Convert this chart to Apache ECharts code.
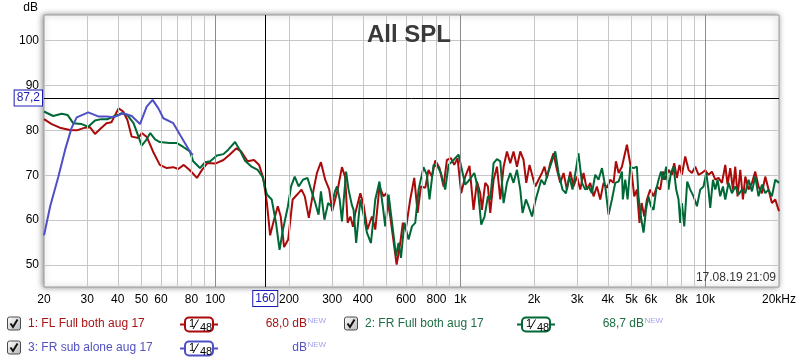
<!DOCTYPE html>
<html><head><meta charset="utf-8">
<script src="https://cdn.jsdelivr.net/npm/echarts@6/dist/echarts.min.js"></script>
<style>html,body{margin:0;padding:0;background:#fff}#c{width:800px;height:362px}</style>
</head><body><div id="c"></div>
<script>
// ---- data ----
const flFreq = [20,21.5,23.2,25.5,27.2,29.4,30.8,32.3,33.9,36,37.7,40.3,42.1,43.8,45.6,48.6,50.1,52.6,55.7,59.4,63.4,67.4,70.6,74.4,78.8,84.2,88.3,92.9,100,108,114.7,122,127.6,135.5,144,151,157,162.5,167.5,173,180,185,191,198.5,207,216,225,232,241,252,260,270,281,292,300,316,329,339,347,356,365,373,391,403,418,436,450,468,486,499,518,531,550,569,583,602,625,649,670,691,720,742,766,791,823,855,882,916,945,975,1009,1048,1091,1133,1170,1207,1226,1265,1297,1326,1368,1412,1457,1503,1551,1600,1650,1704,1758,1813,1860,1918,1973,2024,2087,2155,2208,2259,2330,2403,2482,2560,2641,2725,2812,2900,2993,3089,3186,3288,3393,3500,3612,3728,3845,3969,4095,4224,4320,4430,4570,4790,4910,5030,5130,5260,5390,5500,5640,5780,5963,6150,6350,6551,6720,6866,7080,7310,7470,7660,7850,8030,8285,8550,8820,9101,9390,9690,10000,10310,10650,10990,11330,11700,12070,12330,12650,12970,13260,13550,13900,14250,14570,15030,15510,16000,16500,17040,17580,18130,18710,19310,20000];
const flDb = [82.5,81.4,80.6,80.1,80.0,80.6,80.7,79.2,80.3,81.6,81.8,84.9,84.2,82.3,78.6,78.3,79.4,78.5,75.3,72.3,71.6,71.8,71.4,72.3,71.1,69.4,71.2,72.7,72.6,73.4,74.6,76.0,75.3,73.1,73.4,72.3,69.4,63.8,56.6,59.7,63.1,60.8,54.0,55.7,64.6,65.7,66.8,65.3,60.5,66.8,70.5,72.9,69.0,66.8,62.0,66.8,71.8,69.6,59.4,60.8,58.5,61.6,66.0,63.4,57.9,60.8,57.9,67.5,65.3,66.0,60.8,56.4,50.1,54.9,59.4,58.6,64.6,69.4,61.6,67.5,67.2,71.2,69.7,73.3,71.6,67.5,73.4,73.8,72.3,73.8,66.0,69.7,72.1,62.3,68.6,66.0,62.3,68.3,67.5,61.6,69.0,71.9,64.6,71.9,75.3,72.7,75.3,71.9,75.3,73.4,68.3,72.3,69.7,67.5,69.0,70.5,71.9,69.4,72.7,74.9,71.2,68.3,70.5,66.8,70.8,67.5,69.7,66.8,70.5,66.8,68.3,65.3,67.5,64.6,68.3,67.2,69.0,68.3,73.1,70.5,71.9,76.8,73.4,69.7,65.3,66.8,59.4,63.8,60.8,64.6,66.8,65.3,67.5,66.8,70.8,69.0,71.2,70.1,72.7,69.4,72.3,70.1,74.2,71.2,70.5,71.9,70.1,70.5,71.1,70.1,70.8,69.0,69.4,68.3,72.3,67.9,71.6,66.8,71.9,65.3,71.2,64.6,69.7,66.8,68.3,70.8,67.5,66.0,69.7,66.8,63.8,64.6,62.0];

const frFreq = [20,21.8,23.6,25.0,26.3,28.5,30.3,32.3,34.3,36.4,38.9,41.5,43.8,46.4,48.6,50.1,52.3,54.3,56.8,59.4,65.0,69.5,74.0,78.8,81.3,86.6,90.9,95.4,101.6,108,113,120.5,125.7,132,140,149,156,162.5,170,177,183,189,198,204,211,219,228,238,246,256,264,270,279,289,298,308,314,322,329,342,350,361,367,376,391,403,416,432,450,468,483,494,510,531,547,560,573,591,615,635,655,676,708,731,749,778,809,834,868,896,939,984,1016,1048,1091,1141,1177,1218,1256,1297,1326,1368,1412,1457,1503,1551,1600,1650,1704,1758,1796,1854,1900,1963,2024,2087,2141,2208,2280,2352,2442,2519,2615,2700,2786,2873,2965,3038,3139,3237,3340,3448,3556,3668,3788,3907,4030,4160,4292,4430,4570,4610,4715,4820,4941,5100,5260,5340,5460,5600,5730,5860,6000,6150,6310,6450,6600,6760,6930,7080,7240,7420,7610,7780,7905,8030,8210,8440,8683,8960,9250,9539,9840,10090,10310,10480,10750,10990,11230,11510,11810,12070,12450,12850,13260,13680,14120,14570,15030,15510,16000,16500,17040,17580,18130,18710,19310,20000];
const frDb = [84.2,83.2,83.7,83.4,81.6,81.4,80.8,82.2,82.5,82.5,83.2,83.8,83.4,81.6,78.6,76.6,77.9,79.4,78.0,77.4,77.2,77.2,76.3,75.3,73.1,71.6,72.9,73.1,74.4,74.7,75.7,77.4,75.7,73.3,72.0,71.2,69.6,65.7,64.6,59.4,53.4,57.9,63.1,67.5,69.7,67.5,69.0,69.4,66.8,63.8,61.2,66.4,60.1,63.8,63.1,66.4,67.5,64.6,59.7,70.8,66.8,63.4,62.3,54.9,64.6,61.2,57.2,54.9,64.6,68.6,63.1,58.6,65.7,57.9,52.0,54.9,51.6,59.4,55.7,58.6,59.4,66.8,71.8,70.1,64.6,72.3,71.9,70.5,66.8,72.3,73.4,74.6,71.2,67.9,69.0,70.5,67.5,59.0,60.8,65.3,64.6,72.7,73.6,73.1,63.8,68.3,70.5,68.3,71.2,66.8,61.6,64.6,63.1,60.8,64.2,66.8,69.0,67.9,70.5,72.7,75.3,70.5,66.8,66.0,69.7,66.8,71.2,74.9,68.3,66.8,67.5,66.0,70.1,69.0,71.6,67.5,61.2,64.6,68.3,68.6,70.8,64.6,69.0,64.6,71.9,71.6,71.9,65.3,60.8,57.2,62.3,65.3,63.1,62.3,66.8,69.0,70.8,69.0,71.9,66.8,70.5,71.9,66.8,64.6,59.4,63.8,58.6,68.6,66.8,65.3,63.1,66.8,67.5,70.5,66.8,62.7,69.0,66.8,69.0,65.3,67.5,64.6,68.3,66.0,67.5,65.7,66.8,66.0,69.0,66.4,69.7,65.3,67.9,66.0,66.8,65.3,69.0,68.3];

const subFreq = [20,21.2,22.9,24.4,25.9,27.2,30.3,33.3,36,38.4,42.1,45.6,49.3,52.5,55.5,58.6,61.4,67.4,71.8,78.8,81];
const subDb = [56.6,63.1,69.7,75.7,80.5,82.9,84.0,83.1,83.1,82.9,83.8,83.2,81.4,85.3,86.8,84.9,82.7,81.6,79.0,75.3,74.5];

const xTickValues = [20,30,40,50,60,80,100,200,300,400,600,800,1000,2000,3000,4000,5000,6000,8000,10000,20000];
const xTickLabels = ['20','30','40','50','60','80','100','200','300','400','600','800','1k','2k','3k','4k','5k','6k','8k','10k','20kHz'];
const xMinorGrid = [30,40,50,60,70,80,90,200,300,400,500,600,700,800,900,2000,3000,4000,5000,6000,7000,8000,9000];
const xDecadeGrid = [100,1000,10000];
const yTickValues = [50,60,70,80,90,100];
const cursorFreq = 160, cursorDb = 87.2;

const legendNames = ['1: FL Full both aug 17','2: FR Full both aug 17','3: FR sub alone aug 17'];
const legendLevels = ['68,0 dB','68,7 dB','dB'];
const COLORS = ['#aa0a0a','#006837','#4f4fc6'];
const TEXTCOLORS = ['#a81414','#1e6e44','#5252c0'];
const FONT = "'Liberation Sans', Arial, sans-serif";

function pairs(f, d){ return f.map((v,i)=>[v, d[i]]); }

const gridMarks = xMinorGrid.map(f=>({xAxis:f, lineStyle:{color:'#c6c6c6', width:1, type:'solid'}}))
  .concat(xDecadeGrid.map(f=>({xAxis:f, lineStyle:{color:'#8c8c8c', width:1, type:'solid'}})))
  .concat([
    {xAxis:cursorFreq, lineStyle:{color:'#000', width:1, type:'solid'},
     label:{show:true, position:'start', distance:4, formatter:String(cursorFreq), color:'#1a1ab4', fontSize:12, fontFamily:FONT,
            borderColor:'#1a1ab4', borderWidth:1, padding:[2,2,1,2], backgroundColor:'#fff'}},
    {yAxis:cursorDb, lineStyle:{color:'#000', width:1, type:'solid'},
     label:{show:true, position:'start', distance:2, formatter:String(cursorDb).replace('.',','), color:'#1a1ab4', fontSize:12, fontFamily:FONT,
            borderColor:'#1a1ab4', borderWidth:1, padding:[2,2,1,2], backgroundColor:'#fff'}}
  ]);

// legend graphics
const g = [];
const legendPos = [[7,323.5],[344,323.5],[7,347.5]];
legendNames.forEach((name,i)=>{
  const [cx,cy] = legendPos[i];
  g.push({type:'rect', shape:{x:cx+0.5,y:cy-6.5,width:13,height:13,r:2},
    style:{fill:new echarts.graphic.LinearGradient(0,0,1,1,[{offset:0,color:'#ffffff'},{offset:1,color:'#b8b8b8'}]), stroke:'#4a4a4a', lineWidth:1}});
  g.push({type:'polyline', shape:{points:[[cx+3.5,cy],[cx+6,cy+3.5],[cx+10.5,cy-4]]}, style:{stroke:'#111', lineWidth:2, fill:null}});
  g.push({type:'text', x:cx+21, y:cy, style:{text:name, fill:TEXTCOLORS[i], font:'12px '+FONT, verticalAlign:'middle'}});
  // smoothing box
  const c = COLORS[i];
  g.push({type:'line', shape:{x1:cx+173,y1:cy+1,x2:cx+178,y2:cy+1}, style:{stroke:c, lineWidth:2}});
  g.push({type:'line', shape:{x1:cx+206,y1:cy+1,x2:cx+211,y2:cy+1}, style:{stroke:c, lineWidth:2}});
  g.push({type:'rect', shape:{x:cx+178,y:cy-6,width:28,height:14,r:4}, style:{fill:'#fff', stroke:c, lineWidth:2}});
  g.push({type:'text', x:cx+182, y:cy-5, style:{text:'1', fill:'#000', font:'11px '+FONT, verticalAlign:'top'}});
  g.push({type:'line', shape:{x1:cx+186,y1:cy+5.5,x2:cx+191.5,y2:cy-4}, style:{stroke:'#000', lineWidth:1}});
  g.push({type:'text', x:cx+193, y:cy-1.5, style:{text:'48', fill:'#000', font:'11px '+FONT, verticalAlign:'top'}});
  // level
  g.push({type:'text', x:cx+300, y:cy, style:{text:legendLevels[i], fill:TEXTCOLORS[i], font:'12px '+FONT, align:'right', verticalAlign:'middle'}});
  g.push({type:'text', x:cx+300.5, y:cy-3, style:{text:'NEW', fill:'#a3a3f0', font:'8px '+FONT, verticalAlign:'middle'}});
});
g.push({type:'text', x:38, y:8, style:{text:'dB', fill:'#000', font:'12px '+FONT, align:'right', verticalAlign:'middle'}});
g.push({type:'text', x:409, y:35, z:10, style:{text:'All SPL', fill:'#3a3a3a', font:'bold 24px '+FONT, align:'center', verticalAlign:'middle'}});
g.push({type:'text', x:776, y:278, z:10, style:{text:'17.08.19 21:09', fill:'#333', font:'12px '+FONT, align:'right', verticalAlign:'middle'}});

function xLabel(v){
  for (let i=0;i<xTickValues.length;i++){ if (Math.abs(Math.log10(v)-Math.log10(xTickValues[i]))<0.002) return xTickLabels[i]; }
  return '';
}

const chart = echarts.init(document.getElementById('c'), null, {renderer:'canvas'});
chart.setOption({
  animation:false,
  grid:{left:44, right:21, top:15, bottom:75, show:true, backgroundColor:'#fff', borderColor:'#9a9a9a', borderWidth:1,
        shadowBlur:6, shadowColor:'rgba(0,0,0,0.45)', shadowOffsetX:-1, shadowOffsetY:0},
  xAxis:{type:'log', logBase:10, min:20, max:20000,
    axisLine:{show:false}, axisTick:{show:false}, splitLine:{show:false}, minorSplitLine:{show:false},
    axisLabel:{customValues:xTickValues, formatter:xLabel, color:'#000', fontSize:12, fontFamily:FONT, margin:7, hideOverlap:false}},
  yAxis:{type:'value', min:45.1, max:105.7,
    axisLine:{show:false}, axisTick:{show:false, customValues:yTickValues},
    splitLine:{show:true, lineStyle:{color:'#c6c6c6', width:1}},
    axisLabel:{customValues:yTickValues, color:'#000', fontSize:12, fontFamily:FONT, margin:5}},
  graphic:{elements:g},
  series:[
    {type:'line', data:[], z:1, silent:true,
     markLine:{silent:true, symbol:['none','none'], animation:false, label:{show:false}, lineStyle:{type:'solid'}, emphasis:{disabled:true}, data:gridMarks}},
    {type:'line', name:legendNames[0], data:pairs(flFreq, flDb), z:3, symbol:'none', showSymbol:false, smooth:false, lineStyle:{color:COLORS[0], width:2}, itemStyle:{color:COLORS[0]}, silent:true},
    {type:'line', name:legendNames[1], data:pairs(frFreq, frDb), z:4, symbol:'none', showSymbol:false, smooth:false, lineStyle:{color:COLORS[1], width:2}, itemStyle:{color:COLORS[1]}, silent:true},
    {type:'line', name:legendNames[2], data:pairs(subFreq, subDb), z:5, symbol:'none', showSymbol:false, smooth:false, lineStyle:{color:COLORS[2], width:2}, itemStyle:{color:COLORS[2]}, silent:true}
  ]
});
</script></body></html>
